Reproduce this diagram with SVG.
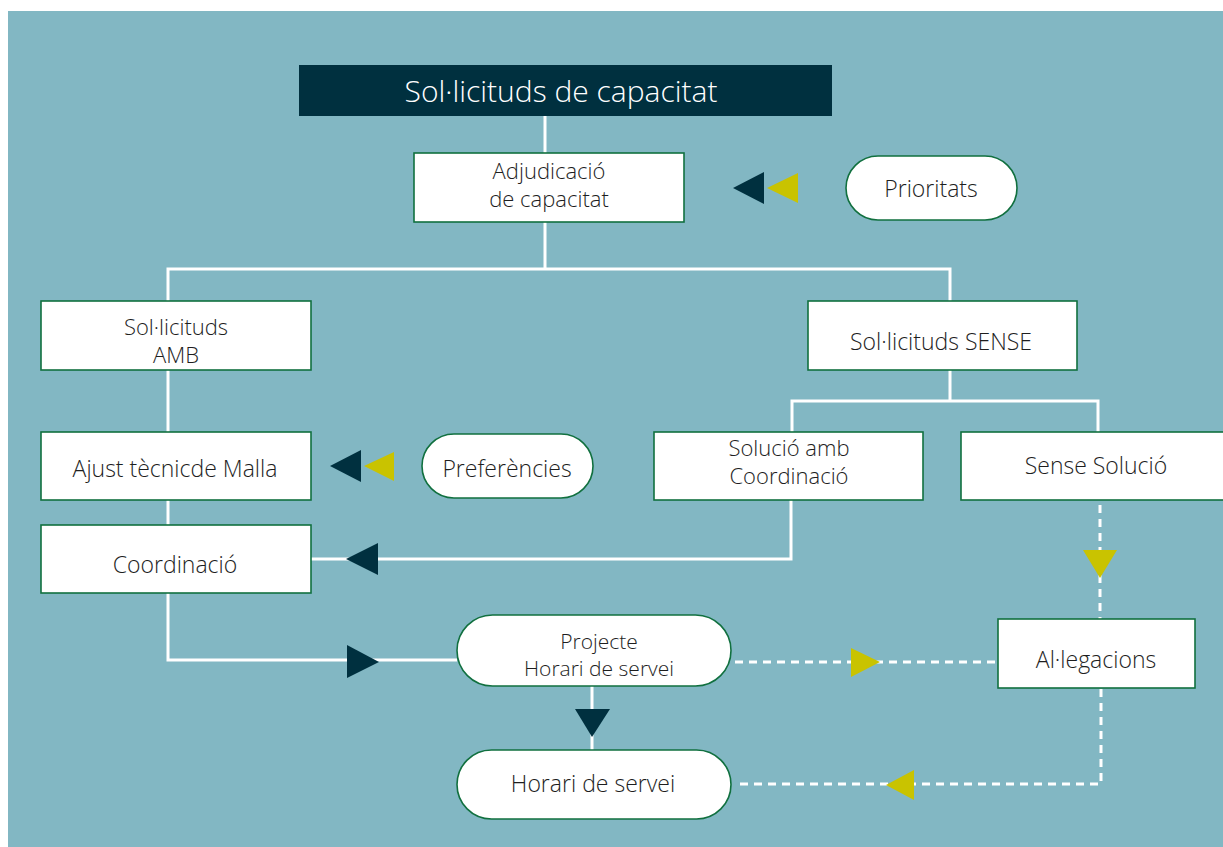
<svg xmlns="http://www.w3.org/2000/svg" width="1223" height="847" viewBox="0 0 1223 847">
<style>
.bg{fill:#82b7c3}
.box{fill:#fff;stroke:#11703f;stroke-width:1.6}
.t{font-family:"Open Sans","Liberation Sans",sans-serif;font-weight:300;font-size:23px;fill:#1e1e1e;text-anchor:middle}
.t2{font-size:22px}
.ln{fill:none;stroke:#fff;stroke-width:3}
.dl{fill:none;stroke:#fff;stroke-width:3;stroke-dasharray:8 6}
.dk{fill:#00303f}
.yl{fill:#c9c300}
</style>
<rect x="0" y="0" width="1223" height="847" fill="#fff"/>
<rect class="bg" x="8" y="11" width="1215" height="836"/>
<g id="connectors">
<path class="ln" d="M545,116V153"/>
<path class="ln" d="M545,222V269H168V301M545,269H950V301"/>
<path class="ln" d="M168,370V432"/>
<path class="ln" d="M168,500V525"/>
<path class="ln" d="M950,370V401H792V432M950,401H1098V432"/>
<path class="ln" d="M791,500V559H311"/>
<path class="ln" d="M168,593V660H457"/>
<path class="ln" d="M592,686V750"/>
<path class="dl" d="M1100,505V619"/>
<path class="dl" d="M735,662H998"/>
<path class="dl" d="M1101,689V784H735"/>
<polygon class="dk" points="733,188 764,172 764,204"/>
<polygon class="yl" points="767,188 798,173 798,203"/>
<polygon class="dk" points="330,466 361,450 361,482"/>
<polygon class="yl" points="364,466 394,452 394,481"/>
<polygon class="dk" points="346,559 378,543 378,575"/>
<polygon class="dk" points="379,662 347,645 347,678"/>
<polygon class="yl" points="1100,578 1083,550 1117,550"/>
<polygon class="yl" points="880,662 851,648 851,677"/>
<polygon class="dk" points="592,737 575,709 610,709"/>
<polygon class="yl" points="886,785 914,770 914,800"/>
</g>
<g id="n-title">
<rect x="299" y="65" width="533" height="51" fill="#00303f"/>
<text class="t" x="561" y="102" style="font-size:30px;fill:#fff">Sol·licituds de capacitat</text>
</g>
<g id="n-adjudicacio">
<rect class="box" x="414" y="153" width="270" height="69"/>
<text class="t t2" x="549" y="179">Adjudicació<tspan x="549" dy="28">de capacitat</tspan></text>
</g>
<g id="n-prioritats">
<rect class="box" x="846" y="156" width="171" height="64" rx="32"/>
<text class="t" x="931" y="197">Prioritats</text>
</g>
<g id="n-amb">
<rect class="box" x="41" y="301" width="270" height="69"/>
<text class="t t2" x="176" y="335">Sol·licituds<tspan x="176" dy="28">AMB</tspan></text>
</g>
<g id="n-sense">
<rect class="box" x="808" y="301" width="269" height="69"/>
<text class="t" x="941" y="350">Sol·licituds SENSE</text>
</g>
<g id="n-ajust">
<rect class="box" x="41" y="432" width="270" height="68"/>
<text class="t" x="175" y="477">Ajust tècnicde Malla</text>
</g>
<g id="n-preferencies">
<rect class="box" x="422" y="434" width="171" height="64" rx="32"/>
<text class="t" x="507" y="477">Preferències</text>
</g>
<g id="n-solucio">
<rect class="box" x="654" y="432" width="269" height="68"/>
<text class="t t2" x="789" y="456">Solució amb<tspan x="789" dy="28">Coordinació</tspan></text>
</g>
<g id="n-sensesolucio">
<rect class="box" x="961" y="432" width="270" height="68"/>
<text class="t" x="1096" y="474">Sense Solució</text>
</g>
<g id="n-coordinacio">
<rect class="box" x="41" y="525" width="270" height="68"/>
<text class="t" x="175" y="573">Coordinació</text>
</g>
<g id="n-projecte">
<rect class="box" x="457" y="615" width="274" height="71" rx="35.5"/>
<text class="t" x="599" y="649" style="font-size:21px">Projecte<tspan x="599" dy="27">Horari de servei</tspan></text>
</g>
<g id="n-allegacions">
<rect class="box" x="998" y="619" width="197" height="69"/>
<text class="t" x="1096" y="668">Al·legacions</text>
</g>
<g id="n-horari">
<rect class="box" x="457" y="750" width="274" height="69" rx="34.5"/>
<text class="t" x="593" y="792">Horari de servei</text>
</g>
</svg>
